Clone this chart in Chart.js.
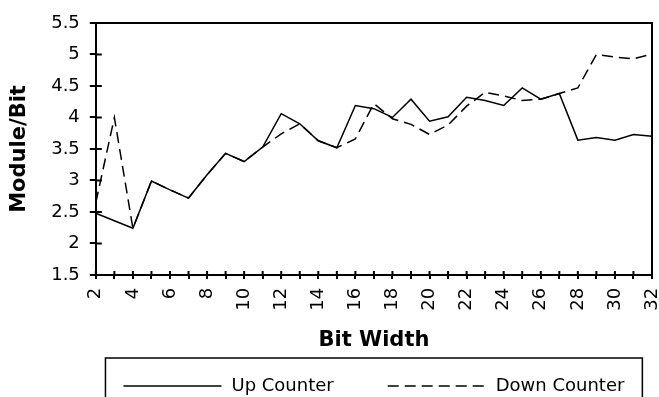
<!DOCTYPE html>
<html>
<head>
<meta charset="utf-8">
<script src="https://cdn.jsdelivr.net/npm/chart.js@4"></script>
<style>
  html, body { margin: 0; padding: 0; background: #fff; }
  #wrap { width: 659px; height: 397px; }
</style>
</head>
<body>
<div id="wrap"><canvas id="chart-1"></canvas></div>
<script>
// bit widths on the x axis
const bits = [2, 3, 4, 5, 6, 7, 8, 9, 10, 11, 12, 13, 14, 15, 16, 17, 18, 19, 20, 21, 22, 23, 24, 25, 26, 27, 28, 29, 30, 31, 32];
// module/bit for each counter
const upCounter = [2.48, 2.36, 2.24, 2.99, 2.85, 2.72, 3.09, 3.43, 3.30, 3.53, 4.06, 3.90, 3.63, 3.52, 4.19, 4.14, 4.00, 4.29, 3.94, 4.01, 4.32, 4.27, 4.19, 4.47, 4.29, 4.38, 3.64, 3.68, 3.64, 3.73, 3.70];
const downCounter = [2.65, 4.00, 2.24, 2.99, 2.85, 2.72, 3.09, 3.43, 3.30, 3.53, 3.74, 3.90, 3.63, 3.52, 3.66, 4.22, 3.98, 3.89, 3.73, 3.88, 4.18, 4.40, 4.34, 4.27, 4.29, 4.38, 4.47, 5.00, 4.96, 4.93, 5.01];
const seriesNames = ["Up Counter", "Down Counter"];

const FONT = "'DejaVu Sans', sans-serif";

// frame on top/right + tick marks that cross into the plot
const frameTicks = {
  id: "frameTicks",
  afterDraw(chart) {
    const { ctx, chartArea: a, scales } = chart;
    ctx.save();
    ctx.strokeStyle = "#000";
    ctx.lineWidth = 2;
    ctx.beginPath();
    ctx.moveTo(a.left, a.top);
    ctx.lineTo(a.right, a.top);
    ctx.lineTo(a.right, a.bottom);
    scales.x.ticks.forEach((t, i) => {
      const px = scales.x.getPixelForTick(i);
      ctx.moveTo(px, a.bottom);
      ctx.lineTo(px, a.bottom - 4);
    });
    scales.y.ticks.forEach((t, i) => {
      const py = scales.y.getPixelForTick(i);
      ctx.moveTo(a.left, py);
      ctx.lineTo(a.left + 6, py);
    });
    ctx.stroke();
    ctx.restore();
  }
};

// boxed legend under the axis title
const boxLegend = {
  id: "boxLegend",
  afterDraw(chart) {
    const { ctx, chartArea: a } = chart;
    const sampleW = 98, gap = 10, itemGap = 54, pad = 18;
    ctx.save();
    ctx.font = "18px " + FONT;
    const items = chart.data.datasets.map(ds => ({ ds, w: ctx.measureText(ds.label).width }));
    let total = items.reduce((s, it) => s + sampleW + gap + it.w, 0) + itemGap * (items.length - 1);
    let x = (a.left + a.right) / 2 - total / 2;
    const y = chart.height - 11;

    ctx.strokeStyle = "#000";
    ctx.lineWidth = 1.5;
    ctx.strokeRect(x - pad, y - 28, total + pad * 2, 60);

    items.forEach(it => {
      ctx.setLineDash(it.ds.borderDash || []);
      ctx.lineWidth = 1.5;
      ctx.beginPath();
      ctx.moveTo(x, y);
      ctx.lineTo(x + sampleW, y);
      ctx.stroke();
      ctx.setLineDash([]);
      ctx.fillStyle = "#000";
      ctx.textBaseline = "middle";
      ctx.fillText(it.ds.label, x + sampleW + gap, y);
      x += sampleW + gap + it.w + itemGap;
    });
    ctx.restore();
  }
};

const ctx1 = document.getElementById("chart-1").getContext("2d");
const myChart = new Chart(ctx1, {
  type: "line",
  data: {
    datasets: [
      {
        label: seriesNames[0],
        data: bits.map((b, i) => ({ x: b, y: upCounter[i] })),
        borderColor: "#000",
        borderWidth: 1.5,
        pointRadius: 0,
        tension: 0,
      },
      {
        label: seriesNames[1],
        data: bits.map((b, i) => ({ x: b, y: downCounter[i] })),
        borderColor: "#000",
        borderWidth: 1.5,
        borderDash: [11, 6],
        pointRadius: 0,
        tension: 0,
      },
    ],
  },
  options: {
    responsive: true,
    maintainAspectRatio: false,
    animation: false,
    layout: { padding: { left: 7, right: 7, top: 23, bottom: 44 } },
    plugins: {
      legend: { display: false },
      tooltip: { enabled: false },
    },
    scales: {
      x: {
        type: "linear",
        min: 2,
        max: 32,
        // rotated last label would otherwise eat space on the right
        afterFit: axis => { axis.paddingRight = 0; },
        border: { display: true, color: "#000", width: 2 },
        grid: { drawOnChartArea: false, color: "#000", lineWidth: 2, tickLength: 4 },
        ticks: {
          stepSize: 1,
          autoSkip: false,
          minRotation: 90,
          maxRotation: 90,
          padding: 9,
          color: "#000",
          font: { family: FONT, size: 18 },
          callback: v => (v % 2 === 0 ? String(v) : ""),
        },
        title: {
          display: true,
          text: "Bit Width",
          color: "#000",
          font: { family: FONT, size: 21, weight: "bold" },
          padding: { top: 8, bottom: 0 },
        },
      },
      y: {
        min: 1.5,
        max: 5.5,
        border: { display: true, color: "#000", width: 2 },
        grid: { drawOnChartArea: false, color: "#000", lineWidth: 2, tickLength: 6 },
        ticks: {
          stepSize: 0.5,
          padding: 10,
          color: "#000",
          font: { family: FONT, size: 18 },
          callback: v => String(v),
        },
        title: {
          display: true,
          text: "Module/Bit",
          color: "#000",
          font: { family: FONT, size: 21, weight: "bold" },
          padding: { top: 0, bottom: 9 },
        },
      },
    },
  },
  plugins: [frameTicks, boxLegend],
});
</script>
</body>
</html>
